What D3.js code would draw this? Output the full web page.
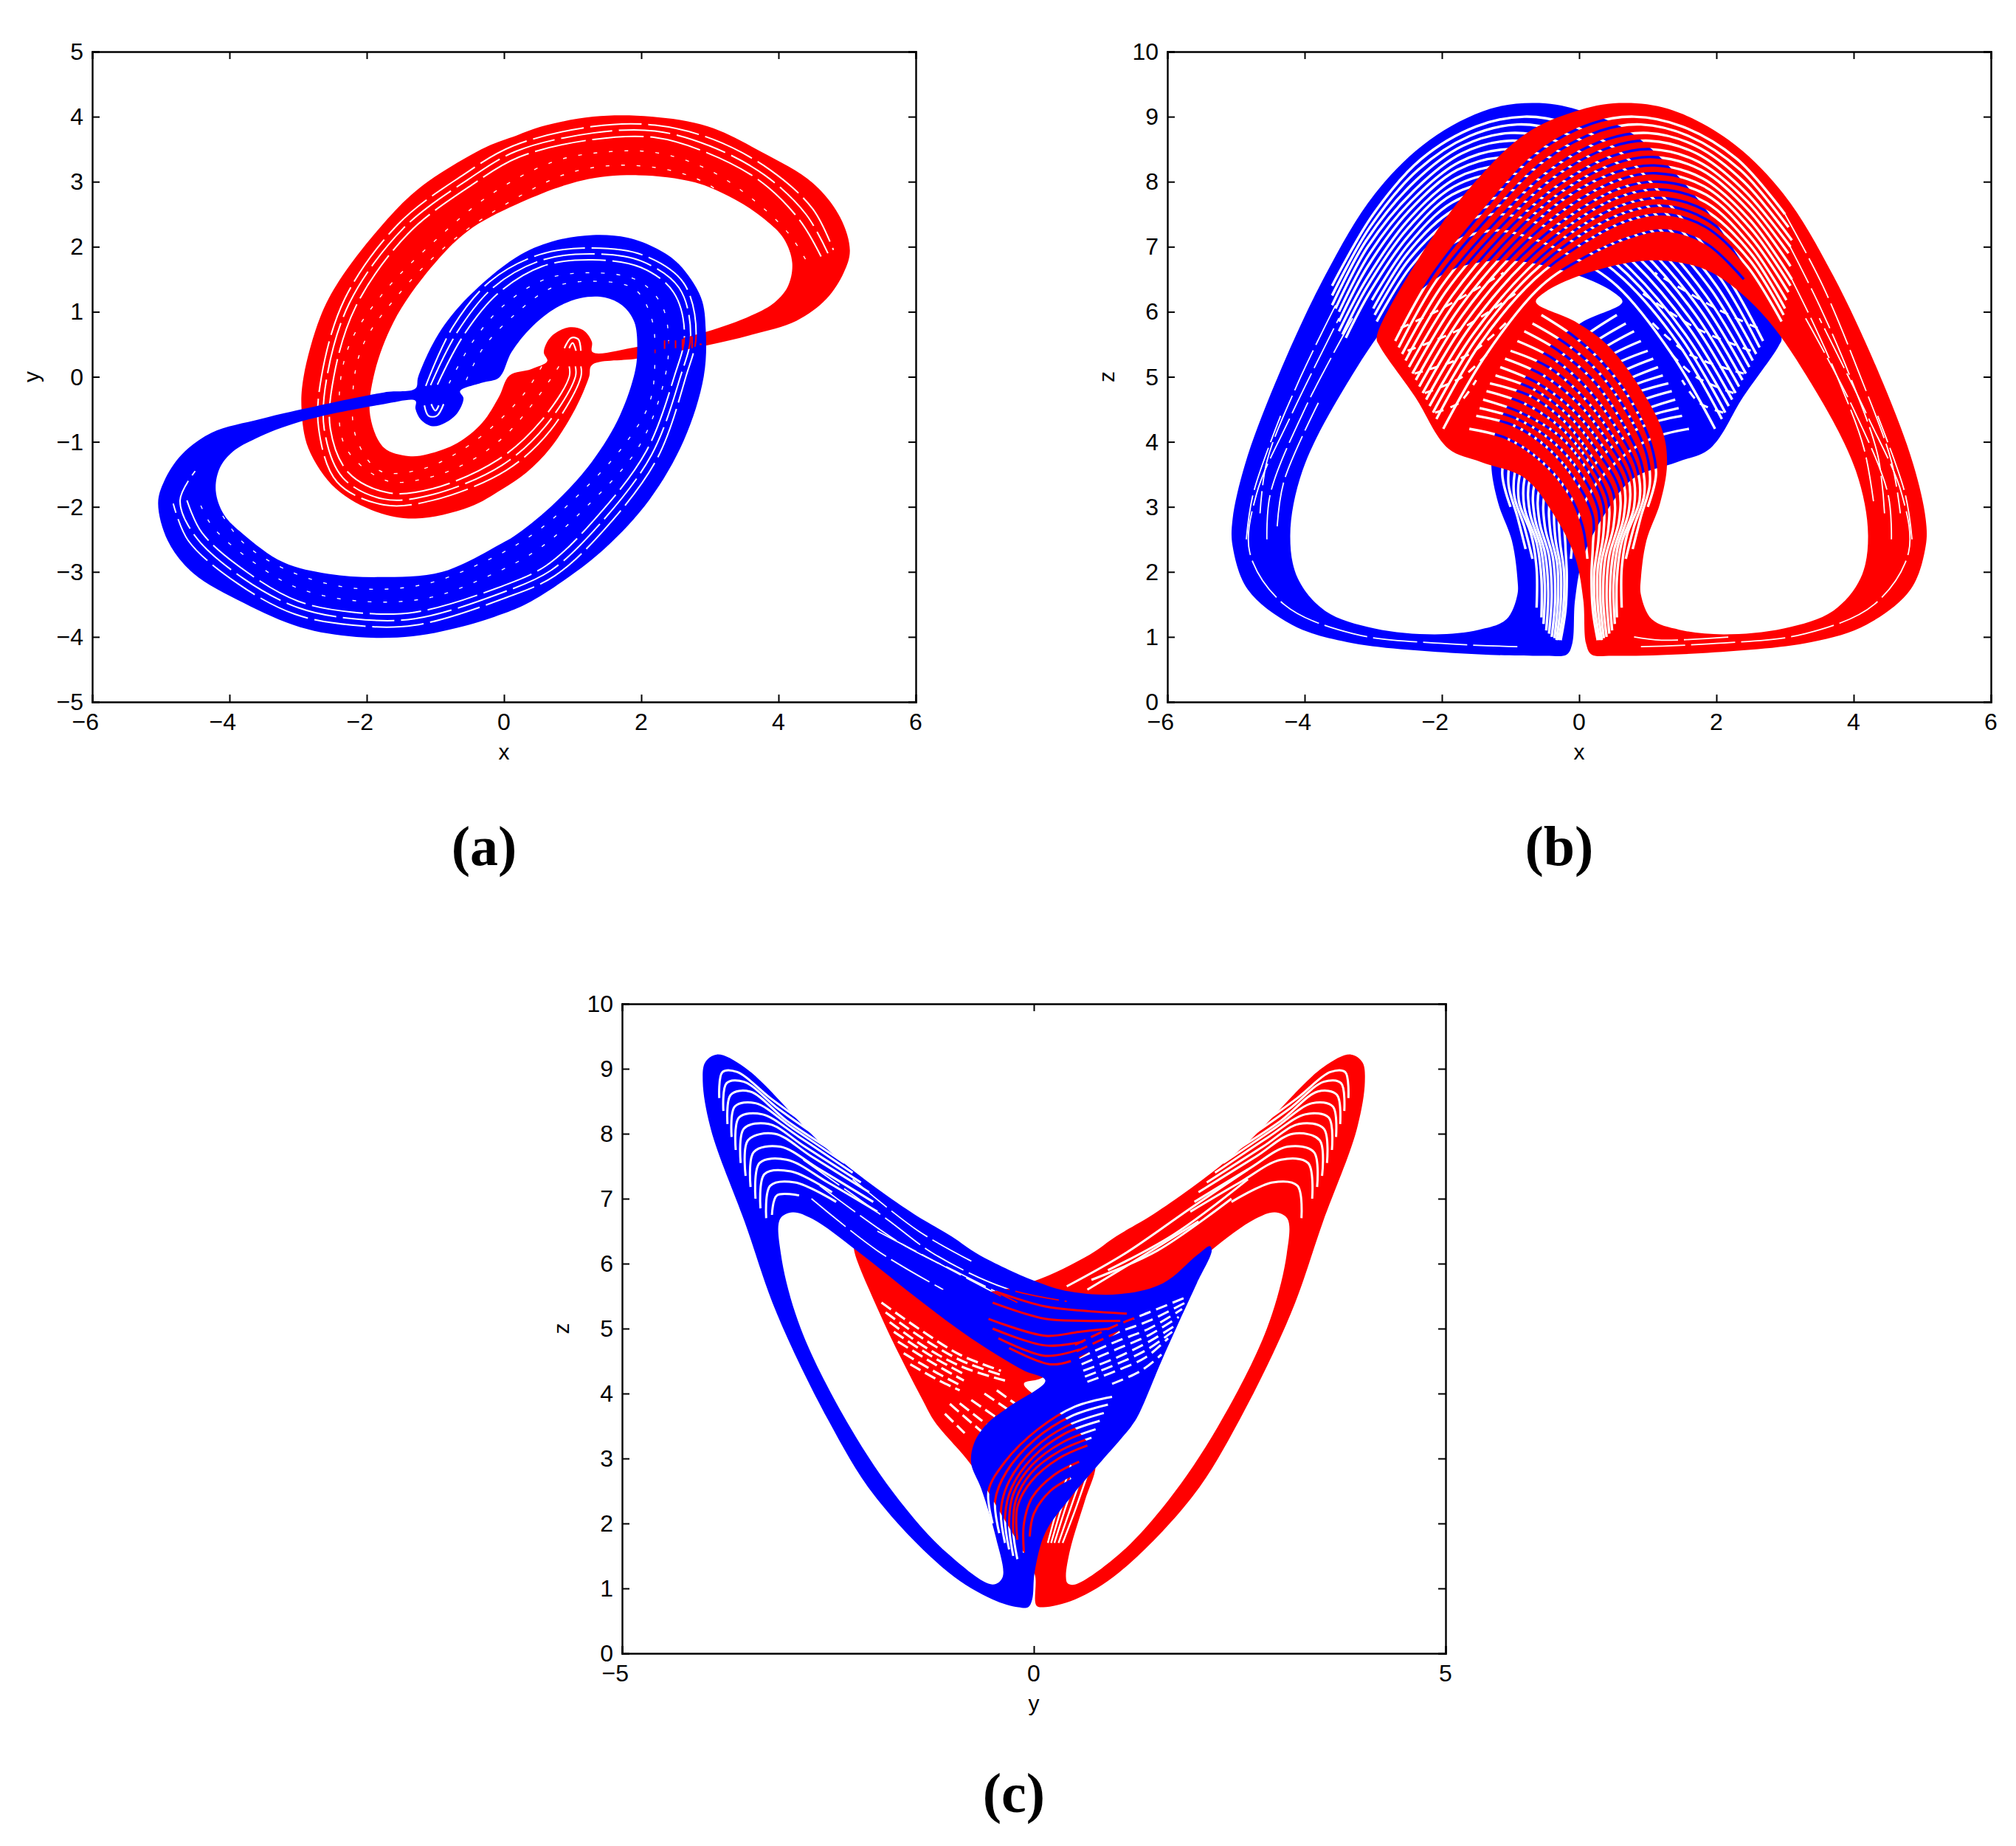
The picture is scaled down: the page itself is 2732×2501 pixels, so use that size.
<!DOCTYPE html>
<html><head><meta charset="utf-8">
<style>html,body{margin:0;background:#fff}svg{display:block}text{fill:#000}</style>
<script src="https://cdnjs.cloudflare.com/ajax/libs/d3/7.8.5/d3.min.js"></script></head><body>
<script>
// ---- tick labels ----
const xTicksWide=[-6,-4,-2,0,2,4,6], yTicksA=[-5,-4,-3,-2,-1,0,1,2,3,4,5], zTicks=[0,1,2,3,4,5,6,7,8,9,10], yTicksC=[-5,0,5];
// ---- panel a: outlines (x,y) ----
const redOuterA=[[1.28,0.18],[1.94,0.28],[2.94,0.48],[3.62,0.65],[4.26,0.86],[4.7,1.2],[4.95,1.6],[5.04,1.94],[4.9,2.45],[4.5,2.98],[3.75,3.46],[2.97,3.85],[2.15,4.0],[1.3,4.0],[0.55,3.85],[0.18,3.71],[-0.25,3.54],[-0.93,3.13],[-1.36,2.79],[-1.82,2.28],[-2.4,1.48],[-2.68,0.91],[-2.92,0.0],[-2.95,-0.5],[-2.85,-1.1],[-2.45,-1.72],[-1.85,-2.08],[-1.29,-2.18],[-0.5,-2.0],[-0.03,-1.73],[0.33,-1.47],[0.68,-1.09],[1.04,-0.49],[1.24,0.0]];
const redHoleA=[[0.08,0.02],[0.4,0.12],[0.63,0.24],[0.58,0.38],[0.68,0.61],[0.94,0.76],[1.15,0.72],[1.28,0.54],[1.29,0.38],[1.94,0.46],[2.94,0.69],[3.62,0.95],[3.95,1.15],[4.14,1.4],[4.2,1.75],[4.08,2.12],[3.8,2.42],[3.36,2.73],[2.78,2.99],[1.96,3.1],[1.14,3.02],[0.18,2.65],[-0.53,2.24],[-1.07,1.67],[-1.61,0.84],[-1.9,0.0],[-1.95,-0.6],[-1.75,-1.09],[-1.39,-1.22],[-1.11,-1.19],[-0.68,-1.02],[-0.32,-0.71],[-0.07,-0.3]];
const blueOuterA=[[-1.29,-0.18],[-1.25,0.0],[-0.96,0.65],[-0.53,1.22],[0.18,1.84],[0.7,2.08],[1.29,2.18],[1.8,2.14],[2.23,1.97],[2.55,1.73],[2.87,1.22],[2.94,0.72],[2.91,0.0],[2.62,-0.98],[2.12,-1.89],[1.47,-2.64],[0.86,-3.14],[0.33,-3.49],[-0.03,-3.65],[-0.5,-3.81],[-1.33,-3.99],[-2.15,-4.0],[-2.97,-3.85],[-3.79,-3.48],[-4.53,-3.02],[-4.9,-2.52],[-5.04,-1.94],[-4.95,-1.6],[-4.7,-1.2],[-4.26,-0.86],[-3.55,-0.65],[-2.95,-0.5],[-1.75,-0.24]];
const blueHoleA=[[-0.07,-0.01],[-0.32,-0.09],[-0.64,-0.22],[-0.59,-0.33],[-0.68,-0.56],[-0.86,-0.71],[-1.04,-0.76],[-1.21,-0.66],[-1.29,-0.49],[-1.29,-0.37],[-1.75,-0.42],[-2.97,-0.69],[-3.62,-0.95],[-3.95,-1.15],[-4.14,-1.4],[-4.2,-1.75],[-4.08,-2.12],[-3.8,-2.42],[-3.22,-2.85],[-2.56,-3.03],[-1.82,-3.08],[-0.9,-3.0],[-0.03,-2.56],[0.15,-2.45],[0.68,-2.0],[1.22,-1.39],[1.65,-0.68],[1.89,0.0],[1.94,0.35],[1.9,0.84],[1.72,1.1],[1.47,1.22],[1.11,1.21],[0.76,1.06],[0.4,0.76],[0.11,0.38]];
const redGapsA=[[[1.04,0.16],[1.04,0.0],[0.61,-0.75],[-0.03,-1.36],[-1.04,-1.81],[-1.75,-1.88],[-2.35,-1.55],[-2.62,-0.8],[-2.58,0.0],[-2.25,1.14],[-1.47,2.28],[-0.53,3.03],[0.18,3.47],[1.3,3.75],[2.2,3.78],[3.0,3.55],[3.8,3.1],[4.4,2.5],[4.72,1.9]],[[0.95,0.16],[0.95,0.0],[0.54,-0.68],[-0.08,-1.27],[-1.04,-1.72],[-1.7,-1.78],[-2.27,-1.47],[-2.53,-0.8],[-2.48,0.0],[-2.16,1.08],[-1.4,2.2],[-0.47,2.95],[0.22,3.38],[1.3,3.65],[2.2,3.68],[2.95,3.45],[3.72,3.02],[4.3,2.42],[4.62,1.85]],[[1.12,0.16],[1.12,0.0],[0.68,-0.82],[0.03,-1.44],[-1.04,-1.9],[-1.75,-1.97],[-2.43,-1.62],[-2.7,-0.8],[-2.66,0.0],[-2.32,1.2],[-1.54,2.35],[-0.6,3.1],[0.13,3.55],[1.3,3.85],[2.2,3.87],[3.05,3.65],[3.88,3.18],[4.5,2.58],[4.8,1.95]]];
const redDotsA=[[[0.8,0.16],[0.5,-0.3],[0.02,-0.9],[-0.5,-1.3],[-1.1,-1.55],[-1.7,-1.6],[-2.3,-1.1],[-2.4,-0.3],[-2.25,0.5],[-1.75,1.3],[-1.05,2.05],[-0.2,2.8],[0.7,3.3],[1.4,3.45],[2.2,3.45],[2.95,3.2],[3.6,2.75],[4.15,2.2],[4.45,1.7]],[[0.55,0.16],[0.3,-0.25],[-0.15,-0.75],[-0.65,-1.15],[-1.2,-1.42],[-1.8,-1.45],[-2.15,-0.95],[-2.2,-0.2],[-2.05,0.5],[-1.55,1.25],[-0.8,2.05],[0.1,2.7],[1.0,3.15],[1.9,3.25],[2.8,3.05],[3.5,2.55],[4.0,2.0]]];
const blueGapsA=[[[-1.07,-0.13],[-0.68,0.69],[-0.15,1.38],[0.54,1.79],[1.29,1.89],[2.0,1.78],[2.55,1.37],[2.72,0.65],[2.57,0.0],[2.15,-1.2],[1.4,-2.26],[0.68,-2.98],[-0.03,-3.32],[-1.3,-3.72],[-2.2,-3.72],[-3.0,-3.55],[-3.8,-3.1],[-4.5,-2.45],[-4.72,-1.9],[-4.5,-1.45]],[[-0.97,-0.12],[-0.6,0.62],[-0.1,1.27],[0.56,1.7],[1.29,1.8],[2.0,1.68],[2.47,1.3],[2.63,0.65],[2.48,0.0],[2.07,-1.15],[1.33,-2.18],[0.62,-2.9],[-0.08,-3.24],[-1.3,-3.62],[-2.2,-3.62],[-3.0,-3.45],[-3.75,-3.0],[-4.4,-2.4],[-4.62,-1.9]],[[-1.14,-0.14],[-0.75,0.76],[-0.2,1.47],[0.52,1.88],[1.29,1.98],[2.03,1.87],[2.62,1.44],[2.8,0.65],[2.65,0.0],[2.23,-1.26],[1.47,-2.34],[0.74,-3.06],[0.02,-3.4],[-1.3,-3.82],[-2.2,-3.82],[-3.05,-3.65],[-3.88,-3.18],[-4.6,-2.52],[-4.82,-1.95]]];
const blueDotsA=[[[-0.8,-0.1],[-0.45,0.55],[0.0,1.1],[0.6,1.5],[1.29,1.6],[1.95,1.48],[2.3,1.1],[2.4,0.5],[2.3,-0.2],[1.95,-1.1],[1.2,-2.0],[0.5,-2.65],[-0.2,-3.05],[-1.1,-3.4],[-2.1,-3.45],[-3.0,-3.25],[-3.65,-2.85],[-4.25,-2.3],[-4.45,-1.9]],[[-0.55,-0.05],[-0.3,0.45],[0.15,0.95],[0.7,1.37],[1.3,1.47],[1.9,1.35],[2.15,0.9],[2.2,0.3],[2.12,-0.4],[1.75,-1.05],[1.1,-1.8],[0.45,-2.4],[-0.3,-2.85],[-1.2,-3.2],[-2.2,-3.25],[-3.1,-3.0],[-3.8,-2.55],[-4.15,-2.05]]];
const spiralGapsA=[[[0.88,0.44],[0.98,0.6],[1.08,0.58],[1.12,0.4]],[[0.95,0.44],[1.0,0.52],[1.05,0.4]],[[-0.88,-0.42],[-0.98,-0.6],[-1.1,-0.6],[-1.16,-0.44]],[[-0.95,-0.44],[-1.0,-0.52],[-1.06,-0.42]]];
const redStubsA=[[[2.34,0.43],[2.34,0.56]],[[2.5,0.44],[2.5,0.56]],[[2.6,0.44],[2.6,0.58]],[[2.74,0.44],[2.74,0.62]],[[2.85,0.5],[2.88,0.5]]];
// ---- panel b (x,z) ----
const redOuterB=[[0.18,0.73],[0.5,0.71],[1.78,0.75],[3.38,0.92],[4.19,1.19],[4.83,1.73],[5.05,2.4],[5.05,2.81],[4.87,3.65],[4.43,4.9],[3.7,6.56],[2.98,7.81],[2.18,8.64],[1.3,9.12],[0.58,9.21],[-0.06,9.08],[-0.79,8.73],[-1.67,7.81],[-2.39,6.73],[-2.95,5.6],[-2.91,5.48],[-2.39,4.69],[-1.91,3.9],[-1.43,3.69],[-0.79,3.44],[-0.38,2.9],[-0.06,2.23],[0.06,1.57],[0.1,0.9]];
const redHoleB=[[0.9,1.65],[1.06,1.27],[1.46,1.11],[2.1,1.04],[2.98,1.13],[3.7,1.4],[4.1,1.9],[4.21,2.56],[4.03,3.56],[3.38,4.9],[2.66,5.98],[1.94,6.6],[1.38,6.77],[0.82,6.77],[0.02,6.56],[-0.5,6.3],[-0.63,6.15],[-0.06,5.85],[0.42,5.48],[0.9,4.81],[1.22,4.15],[1.28,3.65],[1.18,3.06],[0.98,2.48],[0.9,1.9]];
const blueOuterB=[[-0.18,0.73],[-0.5,0.71],[-1.78,0.75],[-3.38,0.92],[-4.19,1.19],[-4.83,1.73],[-5.05,2.4],[-5.05,2.81],[-4.87,3.65],[-4.43,4.9],[-3.7,6.56],[-2.98,7.81],[-2.18,8.64],[-1.3,9.12],[-0.58,9.21],[0.06,9.08],[0.79,8.73],[1.67,7.81],[2.39,6.73],[2.95,5.6],[2.91,5.48],[2.39,4.69],[1.91,3.9],[1.43,3.69],[0.79,3.44],[0.38,2.9],[0.06,2.23],[-0.06,1.57],[-0.1,0.9]];
const blueHoleB=[[-0.9,1.65],[-1.06,1.27],[-1.46,1.11],[-2.1,1.04],[-2.98,1.13],[-3.7,1.4],[-4.1,1.9],[-4.21,2.56],[-4.03,3.56],[-3.38,4.9],[-2.66,5.98],[-1.94,6.6],[-1.38,6.77],[-0.82,6.77],[-0.02,6.56],[0.5,6.3],[0.63,6.15],[0.06,5.85],[-0.42,5.48],[-0.9,4.81],[-1.22,4.15],[-1.28,3.65],[-1.18,3.06],[-0.98,2.48],[-0.9,1.9]];
const redArchGapsB=[[[-2.68,5.55],[-2.15,6.55],[-1.4,7.55],[-0.6,8.45],[0.2,8.9],[0.8,9.0],[1.5,8.85],[2.3,8.35],[3.0,7.5]],[[-2.63,5.45],[-2.08,6.48],[-1.3,7.48],[-0.5,8.33],[0.3,8.78],[0.9,8.88],[1.6,8.7],[2.35,8.18],[3.05,7.3]],[[-2.58,5.35],[-2.0,6.4],[-1.2,7.4],[-0.4,8.2],[0.4,8.65],[1.0,8.75],[1.7,8.55],[2.4,8.0],[3.1,7.1]],[[-2.53,5.25],[-1.93,6.33],[-1.12,7.33],[-0.35,8.08],[0.45,8.53],[1.02,8.63],[1.72,8.43],[2.42,7.85],[3.08,7.0]],[[-2.48,5.15],[-1.85,6.25],[-1.05,7.25],[-0.3,7.95],[0.5,8.4],[1.05,8.5],[1.75,8.3],[2.45,7.7],[3.05,6.9]],[[-2.43,5.05],[-1.8,6.15],[-1.0,7.15],[-0.25,7.85],[0.52,8.28],[1.08,8.38],[1.78,8.18],[2.48,7.55],[3.08,6.7]],[[-2.38,4.95],[-1.75,6.05],[-0.95,7.05],[-0.2,7.75],[0.55,8.15],[1.1,8.25],[1.8,8.05],[2.5,7.4],[3.1,6.5]],[[-2.33,4.85],[-1.7,5.95],[-0.9,6.95],[-0.15,7.62],[0.58,8.03],[1.12,8.13],[1.82,7.93],[2.5,7.28],[3.08,6.4]],[[-2.28,4.75],[-1.65,5.85],[-0.85,6.85],[-0.1,7.5],[0.6,7.9],[1.15,8.0],[1.85,7.8],[2.5,7.15],[3.05,6.3]],[[-2.23,4.65],[-1.6,5.75],[-0.8,6.75],[-0.05,7.4],[0.62,7.78],[1.18,7.88],[1.85,7.68],[2.5,7.02],[3.02,6.18]],[[-2.18,4.55],[-1.55,5.65],[-0.75,6.65],[0,7.3],[0.65,7.65],[1.2,7.75],[1.85,7.55],[2.5,6.9],[3.0,6.05]],[[-2.13,4.45],[-1.5,5.58],[-0.7,6.58],[0.02,7.18],[0.68,7.53],[1.22,7.63],[1.85,7.42],[2.48,6.8],[2.98,5.95]],[[-2.08,4.35],[-1.45,5.5],[-0.65,6.5],[0.05,7.05],[0.7,7.4],[1.25,7.5],[1.85,7.3],[2.45,6.7],[2.95,5.85]],[[-1.98,4.2],[-1.35,5.35],[-0.55,6.4],[0.1,6.85],[0.75,7.15],[1.25,7.25],[1.85,7.05],[2.4,6.5]]];
const redCrossGapsB=[[[-2.6,5.75],[-2.0,6.05],[-1.1,6.6]],[[-2.5,5.4],[-1.7,5.75],[-0.9,6.3]],[[-2.4,5.05],[-1.6,5.35],[-1.0,5.9]],[[-2.25,4.75],[-1.7,5.0],[-1.3,5.4]],[[-2.1,4.45],[-1.75,4.6],[-1.5,4.95]]];
const redArcGapsB=[[[-0.55,5.95],[-0.05,5.6],[0.4,5.15],[0.8,4.55],[1.05,3.95],[1.12,3.5],[1.0,3.0]],[[-0.68,5.82],[-0.18,5.5],[0.3,5.05],[0.7,4.45],[0.98,3.82],[1.03,3.35],[0.9,2.85],[0.78,2.35]],[[-0.8,5.7],[-0.3,5.4],[0.2,4.95],[0.6,4.35],[0.9,3.7],[0.95,3.2],[0.8,2.7],[0.68,2.2]],[[-0.9,5.55],[-0.38,5.28],[0.12,4.82],[0.52,4.25],[0.84,3.6],[0.88,3.1],[0.7,2.58],[0.62,2.05],[0.62,1.45]],[[-1.0,5.4],[-0.45,5.15],[0.05,4.7],[0.45,4.15],[0.78,3.5],[0.8,3.0],[0.62,2.45],[0.55,1.9],[0.55,1.3]],[[-1.08,5.28],[-0.52,5.02],[-0.02,4.6],[0.39,4.05],[0.72,3.42],[0.72,2.92],[0.56,2.38],[0.5,1.8],[0.52,1.2]],[[-1.15,5.15],[-0.6,4.9],[-0.1,4.5],[0.33,3.95],[0.65,3.35],[0.65,2.85],[0.5,2.3],[0.45,1.7],[0.48,1.1]],[[-1.22,5.02],[-0.65,4.8],[-0.15,4.4],[0.27,3.85],[0.58,3.28],[0.58,2.78],[0.44,2.25],[0.4,1.65],[0.44,1.05]],[[-1.3,4.9],[-0.7,4.7],[-0.2,4.3],[0.2,3.75],[0.5,3.2],[0.5,2.7],[0.38,2.2],[0.35,1.6],[0.4,1.0]],[[-1.35,4.78],[-0.78,4.58],[-0.25,4.2],[0.15,3.68],[0.42,3.12],[0.42,2.62],[0.32,2.12],[0.31,1.55],[0.36,0.98]],[[-1.4,4.65],[-0.85,4.45],[-0.3,4.1],[0.1,3.6],[0.35,3.05],[0.35,2.55],[0.27,2.05],[0.27,1.5],[0.33,0.95]],[[-1.45,4.52],[-0.9,4.35],[-0.38,4.0],[0.03,3.5],[0.28,2.95],[0.28,2.48],[0.22,2.0],[0.23,1.45],[0.3,0.95]],[[-1.5,4.4],[-0.95,4.25],[-0.45,3.9],[-0.05,3.4],[0.2,2.85],[0.2,2.4],[0.18,1.95],[0.2,1.4],[0.27,0.95]],[[-1.6,4.2],[-1.05,4.05],[-0.55,3.7],[-0.15,3.2],[0.05,2.7],[0.12,2.2]]];
const redHairB=[[[0.9,0.85],[2.0,0.9],[3.3,1.05],[4.3,1.5],[4.8,2.3],[4.7,3.2],[4.2,4.4],[3.5,5.9]],[[4.55,2.5],[4.5,3.2],[4.0,4.5],[3.3,5.9]],[[4.85,2.5],[4.75,3.2],[4.35,4.4]],[[3.0,7.5],[3.55,6.4],[4.1,5.0],[4.55,3.7],[4.68,2.9]],[[3.05,7.05],[3.5,6.1],[3.95,5.0],[4.35,3.8],[4.45,2.9]],[[3.05,6.6],[3.4,5.85],[3.8,4.9],[4.15,3.9],[4.3,3.0]],[[0.8,1.0],[1.2,0.95],[2.2,1.0]]];
const blueArchGapsB=[[[2.68,5.55],[2.15,6.55],[1.4,7.55],[0.6,8.45],[-0.2,8.9],[-0.8,9.0],[-1.5,8.85],[-2.3,8.35],[-3.0,7.5],[-3.6,6.4]],[[2.63,5.45],[2.08,6.48],[1.3,7.48],[0.5,8.33],[-0.3,8.78],[-0.9,8.88],[-1.6,8.7],[-2.35,8.18],[-3.05,7.3],[-3.6,6.25]],[[2.58,5.35],[2.0,6.4],[1.2,7.4],[0.4,8.2],[-0.4,8.65],[-1.0,8.75],[-1.7,8.55],[-2.4,8.0],[-3.1,7.1],[-3.6,6.1]],[[2.53,5.25],[1.93,6.33],[1.12,7.33],[0.35,8.08],[-0.45,8.53],[-1.02,8.63],[-1.72,8.43],[-2.42,7.85],[-3.08,7.0],[-3.55,6.05]],[[2.48,5.15],[1.85,6.25],[1.05,7.25],[0.3,7.95],[-0.5,8.4],[-1.05,8.5],[-1.75,8.3],[-2.45,7.7],[-3.05,6.9],[-3.5,6.0]],[[2.43,5.05],[1.8,6.15],[1.0,7.15],[0.25,7.85],[-0.52,8.28],[-1.08,8.38],[-1.78,8.18],[-2.48,7.55],[-3.08,6.7],[-3.5,5.85]],[[2.38,4.95],[1.75,6.05],[0.95,7.05],[0.2,7.75],[-0.55,8.15],[-1.1,8.25],[-1.8,8.05],[-2.5,7.4],[-3.1,6.5],[-3.5,5.7]],[[2.33,4.85],[1.7,5.95],[0.9,6.95],[0.15,7.62],[-0.58,8.03],[-1.12,8.13],[-1.82,7.93],[-2.5,7.28],[-3.08,6.4],[-3.45,5.65]],[[2.28,4.75],[1.65,5.85],[0.85,6.85],[0.1,7.5],[-0.6,7.9],[-1.15,8.0],[-1.85,7.8],[-2.5,7.15],[-3.05,6.3],[-3.4,5.6]],[[2.23,4.65],[1.6,5.75],[0.8,6.75],[0.05,7.4],[-0.62,7.78],[-1.18,7.88],[-1.85,7.68],[-2.5,7.02],[-3.02,6.18]],[[2.18,4.55],[1.55,5.65],[0.75,6.65],[0,7.3],[-0.65,7.65],[-1.2,7.75],[-1.85,7.55],[-2.5,6.9],[-3.0,6.05]],[[2.13,4.45],[1.5,5.58],[0.7,6.58],[-0.02,7.18],[-0.68,7.53],[-1.22,7.63],[-1.85,7.42],[-2.48,6.8],[-2.98,5.95]],[[2.08,4.35],[1.45,5.5],[0.65,6.5],[-0.05,7.05],[-0.7,7.4],[-1.25,7.5],[-1.85,7.3],[-2.45,6.7],[-2.95,5.85]],[[1.98,4.2],[1.35,5.35],[0.55,6.4],[-0.1,6.85],[-0.75,7.15],[-1.25,7.25],[-1.85,7.05],[-2.4,6.5]]];
const blueCrossGapsB=[[[2.6,5.75],[2.0,6.05],[1.1,6.6]],[[2.5,5.4],[1.7,5.75],[0.9,6.3]],[[2.4,5.05],[1.6,5.35],[1.0,5.9]],[[2.25,4.75],[1.7,5.0],[1.3,5.4]],[[2.1,4.45],[1.75,4.6],[1.5,4.95]]];
const blueArcGapsB=[[[0.55,5.95],[0.05,5.6],[-0.4,5.15],[-0.8,4.55],[-1.05,3.95],[-1.12,3.5],[-1.0,3.0]],[[0.68,5.82],[0.18,5.5],[-0.3,5.05],[-0.7,4.45],[-0.98,3.82],[-1.03,3.35],[-0.9,2.85],[-0.78,2.35]],[[0.8,5.7],[0.3,5.4],[-0.2,4.95],[-0.6,4.35],[-0.9,3.7],[-0.95,3.2],[-0.8,2.7],[-0.68,2.2]],[[0.9,5.55],[0.38,5.28],[-0.12,4.82],[-0.52,4.25],[-0.84,3.6],[-0.88,3.1],[-0.7,2.58],[-0.62,2.05],[-0.62,1.45]],[[1.0,5.4],[0.45,5.15],[-0.05,4.7],[-0.45,4.15],[-0.78,3.5],[-0.8,3.0],[-0.62,2.45],[-0.55,1.9],[-0.55,1.3]],[[1.08,5.28],[0.52,5.02],[0.02,4.6],[-0.39,4.05],[-0.72,3.42],[-0.72,2.92],[-0.56,2.38],[-0.5,1.8],[-0.52,1.2]],[[1.15,5.15],[0.6,4.9],[0.1,4.5],[-0.33,3.95],[-0.65,3.35],[-0.65,2.85],[-0.5,2.3],[-0.45,1.7],[-0.48,1.1]],[[1.22,5.02],[0.65,4.8],[0.15,4.4],[-0.27,3.85],[-0.58,3.28],[-0.58,2.78],[-0.44,2.25],[-0.4,1.65],[-0.44,1.05]],[[1.3,4.9],[0.7,4.7],[0.2,4.3],[-0.2,3.75],[-0.5,3.2],[-0.5,2.7],[-0.38,2.2],[-0.35,1.6],[-0.4,1.0]],[[1.35,4.78],[0.78,4.58],[0.25,4.2],[-0.15,3.68],[-0.42,3.12],[-0.42,2.62],[-0.32,2.12],[-0.31,1.55],[-0.36,0.98]],[[1.4,4.65],[0.85,4.45],[0.3,4.1],[-0.1,3.6],[-0.35,3.05],[-0.35,2.55],[-0.27,2.05],[-0.27,1.5],[-0.33,0.95]],[[1.45,4.52],[0.9,4.35],[0.38,4.0],[-0.03,3.5],[-0.28,2.95],[-0.28,2.48],[-0.22,2.0],[-0.23,1.45],[-0.3,0.95]],[[1.5,4.4],[0.95,4.25],[0.45,3.9],[0.05,3.4],[-0.2,2.85],[-0.2,2.4],[-0.18,1.95],[-0.2,1.4],[-0.27,0.95]],[[1.6,4.2],[1.05,4.05],[0.55,3.7],[0.15,3.2],[-0.05,2.7],[-0.12,2.2]]];
const blueHairB=[[[-0.9,0.85],[-2.0,0.9],[-3.3,1.05],[-4.3,1.5],[-4.8,2.3],[-4.7,3.2],[-4.2,4.4],[-3.5,5.9]],[[-4.55,2.5],[-4.5,3.2],[-4.0,4.5],[-3.3,5.9]],[[-4.85,2.5],[-4.75,3.2],[-4.35,4.4]],[[-4.4,2.7],[-4.3,3.4],[-3.8,4.6]],[[-3.55,6.1],[-4.1,4.9],[-4.55,3.7],[-4.65,2.9]]];
// ---- panel c (y,z) ----
const blueOuterC=[[-0.19,0.71],[-0.5,0.83],[-1.04,1.25],[-1.93,2.42],[-2.5,3.6],[-3.13,5.26],[-3.51,6.64],[-3.92,8.06],[-4.02,8.8],[-3.99,9.1],[-3.85,9.22],[-3.51,9.02],[-2.48,7.73],[-1.5,6.8],[-1.0,6.42],[-0.67,6.14],[0,5.74],[0.44,5.57],[1.04,5.53],[1.57,5.7],[1.99,6.14],[2.14,6.27],[2.16,6.2],[1.98,5.7],[1.78,5.15],[1.54,4.47],[1.27,3.67],[1.18,3.49],[0.74,2.84],[0.44,2.39],[0.14,1.86],[0.01,1.25],[-0.02,0.83],[-0.07,0.71]];
const blueHoleC=[[-0.38,1.17],[-0.5,1.06],[-1.04,1.53],[-1.63,2.35],[-2.23,3.48],[-2.83,5.0],[-3.07,6.14],[-3.08,6.69],[-2.93,6.79],[-2.69,6.69],[-2.14,6.19],[-1.35,5.4],[-0.76,4.85],[-0.13,4.36],[0.14,4.2],[-0.31,3.79],[-0.58,3.52],[-0.73,3.22],[-0.76,2.92],[-0.64,2.54],[-0.46,1.78]];
const redOuterC=[[0.11,0.71],[0.5,0.83],[1.04,1.25],[1.93,2.42],[2.5,3.6],[3.13,5.26],[3.51,6.64],[3.92,8.06],[4.02,8.8],[3.99,9.1],[3.85,9.22],[3.51,9.02],[2.48,7.73],[1.5,6.8],[1.0,6.42],[0.68,6.14],[0,5.73],[-0.6,5.56],[-1.29,5.63],[-1.6,5.73],[-2.11,6.27],[-2.18,6.27],[-1.87,5.23],[-1.35,3.9],[-1.2,3.56],[-0.76,2.9],[-0.4,2.15],[-0.09,1.48],[0.015,1.2],[0.03,0.74]];
const redHoleC=[[0.39,1.18],[0.41,1.08],[0.5,1.06],[1.04,1.53],[1.63,2.35],[2.23,3.48],[2.83,5.0],[3.07,6.14],[3.08,6.69],[2.93,6.79],[2.69,6.69],[2.14,6.19],[1.45,5.39],[0.77,4.72],[0.08,4.23],[-0.12,4.15],[0.36,3.65],[0.7,3.15],[0.75,2.88],[0.62,2.35],[0.44,1.59]];
const blueWedgeGapsC=[[[-3.82,8.55],[-3.78,8.95],[-3.6,8.95],[-3.2,8.55],[-2.6,8.0]],[[-3.77,8.35],[-3.73,8.78],[-3.52,8.8],[-3.1,8.38],[-2.5,7.85]],[[-3.72,8.15],[-3.68,8.6],[-3.45,8.65],[-3.0,8.2],[-2.4,7.7]],[[-3.67,7.95],[-3.63,8.42],[-3.38,8.47],[-2.92,8.08],[-2.3,7.55]],[[-3.62,7.75],[-3.58,8.25],[-3.3,8.3],[-2.85,7.95],[-2.2,7.4]],[[-3.56,7.55],[-3.52,8.08],[-3.22,8.15],[-2.78,7.8],[-2.1,7.25]],[[-3.5,7.35],[-3.47,7.9],[-3.15,8.0],[-2.7,7.65],[-2.0,7.1]],[[-3.44,7.18],[-3.4,7.72],[-3.08,7.8],[-2.6,7.45],[-1.95,6.95]],[[-3.38,7.0],[-3.33,7.55],[-3.0,7.6],[-2.5,7.25],[-1.9,6.8]],[[-3.32,6.85],[-3.27,7.38],[-2.95,7.42],[-2.45,7.1]],[[-3.25,6.7],[-3.2,7.2],[-2.9,7.25],[-2.4,6.95]],[[-3.18,6.75],[-3.12,7.05],[-2.85,7.05]]];
const blueHairC=[[[-2.8,7.6],[-1.8,6.7],[-1.2,6.14],[-0.34,5.62],[0.4,5.42]],[[-2.6,7.2],[-1.6,6.3],[-0.9,5.85],[-0.2,5.4]],[[-2.7,7.0],[-1.9,6.2],[-1.1,5.6]],[[-2.2,7.3],[-1.4,6.5],[-0.7,6.0]],[[-1.9,6.5],[-1.0,5.9],[-0.4,5.5]]];
const blueFanGapsC=[[[0.5,4.75],[1.0,5.05],[1.4,5.25],[1.88,5.5]],[[0.52,4.65],[1.0,4.93],[1.4,5.12],[1.84,5.4]],[[0.55,4.55],[1.0,4.8],[1.4,5.0],[1.8,5.3]],[[0.58,4.45],[1.0,4.68],[1.4,4.9],[1.76,5.18]],[[0.6,4.35],[1.0,4.55],[1.4,4.8],[1.72,5.05]],[[0.62,4.26],[1.0,4.45],[1.38,4.68],[1.68,4.95]],[[0.65,4.18],[1.0,4.35],[1.35,4.55],[1.63,4.85]],[[0.95,4.15],[1.3,4.35],[1.55,4.6]]];
const blueThroughC=[[[-0.46,5.57],[0.14,5.34],[0.65,5.27],[1.13,5.23]],[[-0.5,5.4],[0.14,5.15],[0.6,5.12],[1.05,5.12]],[[-0.55,5.15],[0.14,4.89],[0.55,4.95],[0.92,5.0]],[[-0.5,5.0],[0.14,4.74],[0.6,4.8]],[[-0.43,4.85],[0.14,4.58],[0.56,4.68]],[[-0.3,4.7],[0.2,4.45],[0.45,4.5]]];
const blueLowGapsC=[[[0.95,3.95],[0.5,3.8],[0.05,3.45],[-0.35,2.95],[-0.55,2.5],[-0.5,2.0]],[[0.9,3.83],[0.45,3.65],[0.02,3.3],[-0.33,2.8],[-0.47,2.35],[-0.42,1.85]],[[0.85,3.7],[0.4,3.5],[0,3.15],[-0.3,2.65],[-0.4,2.2],[-0.35,1.7]],[[0.8,3.58],[0.37,3.38],[-0.01,3.02],[-0.27,2.55],[-0.35,2.1],[-0.3,1.6]],[[0.75,3.45],[0.35,3.25],[-0.02,2.9],[-0.25,2.45],[-0.3,2.0],[-0.25,1.5]],[[0.7,3.32],[0.32,3.12],[-0.03,2.78],[-0.22,2.35],[-0.25,1.88],[-0.2,1.45]],[[0.65,3.2],[0.3,3.0],[-0.03,2.65],[-0.2,2.25],[-0.2,1.75]],[[0.55,2.95],[0.25,2.75],[-0.02,2.4],[-0.12,2.0],[-0.12,1.55]],[[0.45,2.7],[0.2,2.5],[0,2.15],[-0.05,1.8]]];
const redWedgeGapsC=[[[3.82,8.55],[3.78,8.95],[3.6,8.95],[3.2,8.55],[2.6,8.0]],[[3.77,8.35],[3.73,8.78],[3.52,8.8],[3.1,8.38],[2.5,7.85]],[[3.72,8.15],[3.68,8.6],[3.45,8.65],[3.0,8.2],[2.4,7.7]],[[3.67,7.95],[3.63,8.42],[3.38,8.47],[2.92,8.08],[2.3,7.55]],[[3.62,7.75],[3.58,8.25],[3.3,8.3],[2.85,7.95],[2.2,7.4]],[[3.56,7.55],[3.52,8.08],[3.22,8.15],[2.78,7.8],[2.1,7.25]],[[3.5,7.35],[3.47,7.9],[3.15,8.0],[2.7,7.65],[2.0,7.1]],[[3.44,7.18],[3.4,7.72],[3.08,7.8],[2.6,7.45],[1.95,6.95]],[[3.38,7.0],[3.33,7.55],[3.0,7.6],[2.5,7.25],[1.9,6.8]],[[3.25,6.7],[3.2,7.2],[2.9,7.25],[2.4,6.95]],[[2.6,7.3],[1.7,6.45],[0.9,5.9]],[[2.4,7.0],[1.5,6.2],[0.7,5.75]],[[0.4,5.65],[1.1,6.15],[1.9,6.85],[2.6,7.45]],[[0.65,5.6],[1.3,6.1],[2.0,6.65]]];
const redFanGapsC=[[[-1.85,5.4],[-1.4,5.0],[-0.9,4.6],[-0.4,4.35]],[[-1.8,5.25],[-1.35,4.85],[-0.87,4.5],[-0.38,4.28]],[[-1.75,5.1],[-1.3,4.7],[-0.85,4.4],[-0.35,4.2]],[[-1.7,4.95],[-1.25,4.58],[-0.85,4.3]],[[-1.65,4.8],[-1.2,4.45],[-0.85,4.2]],[[-1.58,4.62],[-1.18,4.32],[-0.88,4.12]],[[-1.5,4.45],[-1.15,4.2],[-0.9,4.05]],[[-0.45,4.05],[-0.2,3.82]],[[-0.6,4.0],[-0.32,3.76]],[[-0.76,3.9],[-0.44,3.62]],[[-0.9,3.85],[-0.55,3.5]],[[-1.02,3.84],[-0.64,3.42]],[[-1.08,3.69],[-0.84,3.39]]];
const redLowGapsC=[[[0.65,2.75],[0.5,2.2],[0.35,1.7]],[[0.6,2.8],[0.45,2.25],[0.3,1.7]],[[0.55,2.85],[0.4,2.3],[0.25,1.7]],[[0.5,2.88],[0.35,2.3],[0.21,1.7]],[[0.45,2.9],[0.3,2.3],[0.17,1.7]]];

const RED='#ff0000', BLUE='#0000ff', FONT='"Liberation Sans",Arial,sans-serif';
const svg=d3.select('body').append('svg').attr('width',2732).attr('height',2501).attr('viewBox','0 0 2732 2501');
svg.append('rect').attr('width',2732).attr('height',2501).attr('fill','#fff');
const defs=svg.append('defs');
let uid=0;
function drawShape(g,x,y,rings,color,gapSets){
  const id='m'+(uid++);
  const mask=defs.append('mask').attr('id',id).attr('maskUnits','userSpaceOnUse').attr('x',0).attr('y',0).attr('width',2732).attr('height',2501);
  mask.append('rect').attr('width',2732).attr('height',2501).attr('fill','#fff');
  const open=d3.line().x(d=>x(d[0])).y(d=>y(d[1])).curve(d3.curveCatmullRom.alpha(0.5));
  const closed=d3.line().x(d=>x(d[0])).y(d=>y(d[1])).curve(d3.curveCatmullRomClosed.alpha(0.5));
  gapSets.forEach(([lines,w,dash])=>{
    mask.selectAll(null).data(lines).enter().append('path').attr('d',open).attr('fill','none').attr('stroke','#000').attr('stroke-width',w).attr('stroke-dasharray',dash||null);
  });
  g.append('path').attr('mask',`url(#${id})`).attr('d',rings.map(r=>closed(r)).join('')).attr('fill',color).attr('fill-rule','evenodd');
}
function frame(g,x,y,xt,yt,L,R,T,B,xl,yl,cap,capX,capY){
  const ax=d3.axisBottom(x).tickValues(xt).tickSize(-10).tickFormat('');
  const ay=d3.axisLeft(y).tickValues(yt).tickSize(-10).tickFormat('');
  const st=s=>{s.selectAll('.domain').attr('stroke','#000').attr('stroke-width',2.4);s.selectAll('line').attr('stroke','#000').attr('stroke-width',2);};
  g.append('g').attr('transform',`translate(0,${B})`).call(ax).call(st);
  g.append('g').attr('transform',`translate(0,${T})`).call(d3.axisTop(x).tickValues(xt).tickSize(-10).tickFormat('')).call(st);
  g.append('g').attr('transform',`translate(${L},0)`).call(ay).call(st);
  g.append('g').attr('transform',`translate(${R},0)`).call(d3.axisRight(y).tickValues(yt).tickSize(-10).tickFormat('')).call(st);
  const fmt=v=>v<0?'\u2212'+(-v):''+v;
  g.selectAll(null).data(xt).enter().append('text').attr('x',d=>d<0?x(d)+9:x(d)).attr('y',B+38)
    .attr('text-anchor',d=>d<0?'end':'middle').attr('font-family',FONT).attr('font-size',32).text(fmt);
  g.selectAll(null).data(yt).enter().append('text').attr('x',L-12).attr('y',d=>y(d)+11)
    .attr('text-anchor','end').attr('font-family',FONT).attr('font-size',32).text(fmt);
  g.append('text').attr('x',(L+R)/2).attr('y',B+78).attr('text-anchor','middle').attr('font-family',FONT).attr('font-size',30).text(xl);
  g.append('text').attr('transform',`translate(${L-72},${(T+B)/2}) rotate(-90)`).attr('text-anchor','middle').attr('font-family',FONT).attr('font-size',30).text(yl);
  g.append('text').attr('x',capX).attr('y',capY).attr('text-anchor','middle').attr('font-family','"Liberation Serif",serif').attr('font-weight','bold').attr('font-size',76).text(cap);
}
// panel a
{const L=125,R=1241,T=70,B=951,x=d3.scaleLinear([-6,6],[L,R]),y=d3.scaleLinear([-5,5],[B,T]),g=svg.append('g');
 drawShape(g,x,y,[redOuterA,redHoleA],RED,[[redGapsA,2,'70 9'],[redDotsA,1.4,'5 16'],[spiralGapsA,2.2]]);
 drawShape(g,x,y,[blueOuterA,blueHoleA],BLUE,[[blueGapsA,2,'70 9'],[blueDotsA,1.4,'5 16'],[spiralGapsA,2.2]]);
 g.selectAll(null).data(redStubsA).enter().append('path').attr('d',d3.line().x(d=>x(d[0])).y(d=>y(d[1]))).attr('stroke',RED).attr('stroke-width',2).attr('fill','none');
 frame(g,x,y,xTicksWide,yTicksA,L,R,T,B,'x','y','(a)',656,1172);}
// panel b
{const L=1582,R=2698,T=70,B=951,x=d3.scaleLinear([-6,6],[L,R]),y=d3.scaleLinear([0,10],[B,T]),g=svg.append('g');
 drawShape(g,x,y,[blueOuterB,blueHoleB],BLUE,[[blueArchGapsB,3.4],[blueCrossGapsB,3,'12 10'],[blueArcGapsB,3.4],[blueHairB,1.8,'60 8']]);
 drawShape(g,x,y,[redOuterB,redHoleB],RED,[[redArchGapsB,3.4],[redCrossGapsB,3,'12 10'],[redArcGapsB,3.4],[redHairB,1.8,'60 8']]);
 frame(g,x,y,xTicksWide,zTicks,L,R,T,B,'x','z','(b)',2113,1172);}
// panel c
{const L=843,R=1959,T=1360,B=2240,x=d3.scaleLinear([-5,5],[L,R]),y=d3.scaleLinear([0,10],[B,T]),g=svg.append('g');
 drawShape(g,x,y,[redOuterC,redHoleC],RED,[[redWedgeGapsC,3],[redFanGapsC,3.2,'16 7'],[redLowGapsC,2.4]]);
 drawShape(g,x,y,[blueOuterC,blueHoleC],BLUE,[[blueWedgeGapsC,3],[blueHairC,1.8,'60 8'],[blueFanGapsC,3,'16 8'],[blueThroughC,3],[blueLowGapsC,3]]);
 frame(g,x,y,yTicksC,zTicks,L,R,T,B,'y','z','(c)',1374,2455);}
</script></body></html>
